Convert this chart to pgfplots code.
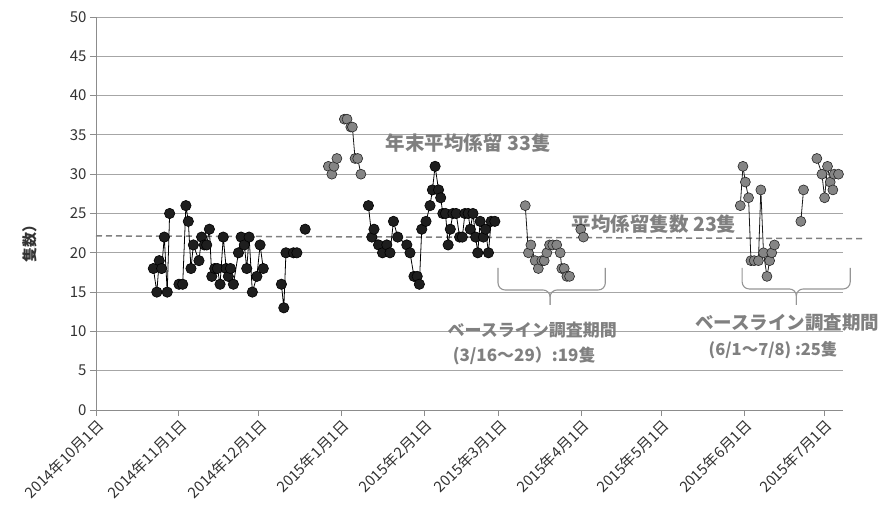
\documentclass[border=0pt]{standalone}
\usepackage{fontspec}
\setmainfont{Noto Sans CJK JP}
\usepackage{pgfplots}
\pgfplotsset{compat=1.18}
\definecolor{gridgray}{HTML}{A6A6A6}
\definecolor{axisgray}{HTML}{8C8C8C}
\definecolor{anngray}{HTML}{808080}
\definecolor{markblack}{HTML}{1E1E1E}
\definecolor{markgray}{HTML}{858585}
\definecolor{labelgray}{HTML}{333333}
\pgfplotsset{
 blk/.style={color=black, line width=0.8pt, mark=*, mark size=5.2pt, mark options={fill=markblack, draw=black, line width=0.6pt, solid}},
 gry/.style={color=black!90, line width=0.8pt, mark=*, mark size=5pt, mark options={fill=markgray, draw=black!85, line width=0.6pt, solid}},
}
\begin{document}
\begin{tikzpicture}
\begin{axis}[
 at={(0,0)}, anchor=south west,
 scale only axis, width=747pt, height=393pt,
 xmin=0, xmax=280, ymin=0, ymax=50,
 ytick={0,5,...,50},
 xtick={0,31,61,92,123,151,182,212,243,273},
 xticklabels={2014年10月1日,2014年11月1日,2014年12月1日,2015年1月1日,2015年2月1日,2015年3月1日,2015年4月1日,2015年5月1日,2015年6月1日,2015年7月1日},
 x tick label style={rotate=45, anchor=north east, font=\fontsize{15}{17}\selectfont, text=labelgray, inner sep=1pt},
 y tick label style={font=\fontsize{15}{17}\selectfont, text=labelgray},
 /pgf/number format/assume math mode=true,
 ymajorgrids, grid style={color=gridgray, line width=0.9pt},
 axis x line*=bottom, axis y line*=left,
 axis line style={color=axisgray, line width=0.9pt, -},
 tick style={color=axisgray, line width=0.9pt},
 tick align=outside, major tick length=6pt,
 clip=false,
]
% dashed average line
\draw[anngray, line width=1.5pt, dash pattern=on 6pt off 4pt] (axis cs:0,22.15) -- (axis cs:288.3,21.8);

% black series (Oct - Feb)
\addplot[blk] coordinates {(21.5,18)(22.8,15)(23.7,19)(24.6,18)(25.6,22)(26.7,15)(27.6,25)};
\addplot[blk] coordinates {(31.1,16)(32.5,16)(33.7,26)(34.6,24)(35.6,18)(36.5,21)(38.6,19)(39.6,22)(40.6,21)(41.5,21)(42.5,23)(43.4,17)(44.5,18)(45.5,18)(46.5,16)(47.7,22)(48.8,18)(49.6,17)(50.4,18)(51.5,16)(53.4,20)(54.4,22)(55.6,21)(56.5,18)(57.4,22)(58.6,15)(60.3,17)(61.5,21)(62.7,18)};
\addplot[blk] coordinates {(69.5,16)(70.4,13)(71.2,20)(74.0,20)(75.3,20)};
\addplot[blk] coordinates {(78.4,23)};
\addplot[blk] coordinates {(102.1,26)(103.4,22)(104.2,23)(105.9,21)(107.4,20)(109.0,21)(110.2,20)(111.5,24)(113.1,22)(116.5,21)(117.7,20)(119.2,17)(120.4,17)(121.2,16)(122.1,23)(123.7,24)(125.2,26)(126.1,28)(127.1,31)(128.4,28)(129.2,27)(130.0,25)(131.0,25)(132.0,21)(132.8,23)(133.8,25)(135.0,25)(136.3,22)(137.3,22)(138.3,25)(139.5,25)(140.3,23)(141.3,25)(142.3,22)(143.1,20)(144.0,24)(145.2,22)(146.0,23)(147.1,20)(148.1,24)(149.5,24)};

% grey series
\addplot[gry] coordinates {(87.1,31)(88.4,30)(89.2,31)(90.3,32)};
\addplot[gry] coordinates {(93.1,37)(94.1,37)(95.5,36)(96.1,36)(97.1,32)(98.1,32)(99.3,30)};
\addplot[gry] coordinates {(160.9,26)(162.1,20)(163.0,21)(164.6,19)(165.8,18)(167.1,19)(168.0,19)(169.0,20)(170.0,21)(171.2,21)(172.7,21)(174.0,20)(174.6,18)(175.5,18)(176.5,17)(177.5,17)};
\addplot[gry] coordinates {(181.7,23)(182.7,22)};
\addplot[gry] coordinates {(241.5,26)(242.5,31)(243.4,29)(244.6,27)(245.5,19)(246.7,19)(248.3,19)(249.2,28)(250.2,20)(251.5,17)(252.5,19)(253.3,20)(254.3,21)};
\addplot[gry] coordinates {(264.2,24)(265.2,28)};
\addplot[gry] coordinates {(270.2,32)(272.1,30)(273.1,27)(274.2,31)(275.2,29)(276.2,28)(276.7,30)(278.3,30)};

% braces
\draw[gridgray!90!black, line width=1.1pt, rounded corners=7pt] (axis cs:150.7,18.07) -- (axis cs:150.7,15.27) -- (axis cs:170.2,15.27) -- (axis cs:170.2,13.36);
\draw[gridgray!90!black, line width=1.1pt, rounded corners=7pt] (axis cs:190.9,18.07) -- (axis cs:190.9,15.27) -- (axis cs:170.2,15.27) -- (axis cs:170.2,13.36);
\draw[gridgray!90!black, line width=1.1pt, rounded corners=7pt] (axis cs:242.2,18.07) -- (axis cs:242.2,15.4) -- (axis cs:262.5,15.4) -- (axis cs:262.5,13.36);
\draw[gridgray!90!black, line width=1.1pt, rounded corners=7pt] (axis cs:282.7,18.07) -- (axis cs:282.7,15.4) -- (axis cs:262.5,15.4) -- (axis cs:262.5,13.36);

% annotations
\node[text=anngray, font=\bfseries\fontsize{19.5}{22}\selectfont] at (axis cs:139.5,34) {年末平均係留 33隻};
\node[text=anngray, font=\bfseries\fontsize{19.5}{22}\selectfont] at (axis cs:209.2,23.7) {平均係留隻数 23隻};
\node[text=anngray, font=\bfseries\fontsize{17}{20}\selectfont] at (axis cs:163.5,10.2) {ベースライン調査期間};
\node[text=anngray, font=\bfseries\fontsize{17}{20}\selectfont] at (axis cs:160.5,6.87) {(3/16～29）:19隻};
\node[text=anngray, font=\bfseries\fontsize{18.5}{21}\selectfont] at (axis cs:259.1,11.07) {ベースライン調査期間};
\node[text=anngray, font=\bfseries\fontsize{16.5}{19}\selectfont] at (axis cs:253.8,7.63) {(6/1～7/8) :25隻};

% y label
\node[rotate=90, text=labelgray, font=\bfseries\fontsize{15}{17}\selectfont] at (axis cs:-24.7,21.6) {隻数）};
\end{axis}
\pgfresetboundingbox
\path (-96pt,-101pt) rectangle (787pt,410pt);
\end{tikzpicture}
\end{document}
